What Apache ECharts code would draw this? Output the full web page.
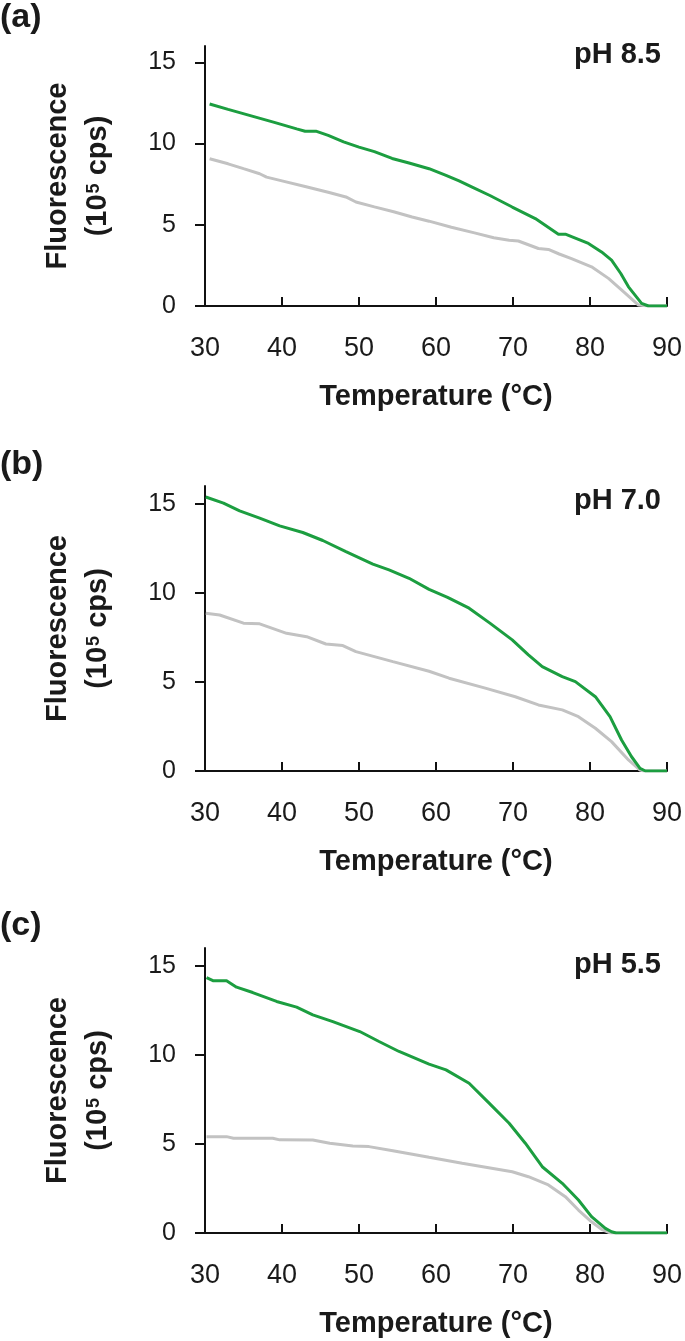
<!DOCTYPE html>
<html>
<head>
<meta charset="utf-8">
<title>Fluorescence vs temperature</title>
<script src="https://cdn.jsdelivr.net/npm/echarts@6/dist/echarts.min.js"></script>
<style>
  html, body { margin: 0; padding: 0; background: #fff; }
  #main { width: 685px; height: 1341px; }
</style>
</head>
<body>
<div id="main"></div>
<script>
// panel labels
var panelLetters = ['(a)', '(b)', '(c)'];
var phLabels = ['pH 8.5', 'pH 7.0', 'pH 5.5'];

// axis ticks
var xTicks = [30, 40, 50, 60, 70, 80, 90];
var yTicks = [0, 5, 10, 15];

// [temperature °C, fluorescence 10^5 cps]
var greenA = [[30.6,12.43],[33,12.1],[36,11.7],[39,11.3],[41.9,10.9],[43,10.75],[44.4,10.76],[46,10.5],[48,10.1],[50,9.78],[52,9.5],[54.3,9.08],[56.5,8.8],[59.1,8.45],[61.3,8.04],[63,7.7],[64.7,7.32],[67,6.8],[69.9,6.09],[72.9,5.38],[75.9,4.42],[76.8,4.42],[78.5,4.1],[79.8,3.85],[81.5,3.33],[82.8,2.82],[84,2.0],[85,1.18],[86.7,0.16],[87.6,0],[90,0]];
var grayA = [[30.6,9.06],[33,8.75],[35,8.45],[37.1,8.14],[38,7.93],[40,7.7],[43,7.35],[46,7.0],[48.3,6.71],[49.6,6.4],[52,6.1],[54.5,5.8],[56.9,5.48],[59.1,5.22],[62,4.85],[65,4.5],[67.5,4.2],[69.5,4.05],[70.7,4.0],[73.3,3.54],[74.6,3.48],[76,3.2],[77.6,2.92],[80.2,2.41],[82.4,1.7],[84.6,0.78],[86.3,0.06],[87.5,0],[90,0]];

var greenB = [[30.1,15.38],[32.4,15.04],[34.5,14.6],[37.1,14.2],[39.7,13.76],[42.7,13.39],[45.3,12.94],[48.3,12.32],[51.8,11.61],[53.9,11.29],[56.5,10.82],[59.1,10.2],[61.5,9.75],[64.3,9.14],[67,8.3],[69.9,7.36],[72,6.52],[73.8,5.86],[76.4,5.3],[78.1,5.02],[80.7,4.17],[82.6,3.05],[84.1,1.74],[85.4,0.8],[86.5,0.15],[87.2,0],[90,0]];
var grayB = [[30.1,8.86],[31.9,8.76],[35,8.3],[37.1,8.26],[40.6,7.73],[43.2,7.54],[45.7,7.13],[47.9,7.04],[49.6,6.7],[54.4,6.14],[59.1,5.6],[61.7,5.21],[66.4,4.65],[70.3,4.17],[73.3,3.71],[76.4,3.43],[78.5,3.05],[80.7,2.4],[82.8,1.65],[85,0.62],[86.5,0.05],[87,0],[90,0]];

var greenC = [[30.2,14.34],[31.1,14.16],[32.8,14.16],[34.1,13.8],[36.2,13.5],[39.3,13.0],[41.9,12.68],[44,12.25],[46.6,11.87],[50.1,11.31],[52.6,10.75],[55.2,10.19],[59.1,9.48],[61.3,9.16],[64.3,8.41],[66.9,7.29],[69.5,6.16],[71.6,5.04],[73.8,3.72],[76.4,2.79],[78.5,1.85],[80.2,0.92],[82,0.26],[82.8,0.07],[83.4,0],[90,0]];
var grayC = [[30.2,5.41],[32.8,5.41],[33.7,5.32],[38.8,5.32],[39.7,5.23],[44,5.22],[46.2,5.04],[49.2,4.89],[51.3,4.85],[54.4,4.62],[59.1,4.25],[63.4,3.92],[69.9,3.44],[72,3.16],[74.6,2.7],[76.8,2.04],[78.5,1.29],[80.2,0.63],[81.5,0.21],[82.6,0],[90,0]];

var greens = [greenA, greenB, greenC];
var grays = [grayA, grayB, grayC];

var FONT = '"Liberation Sans", Arial, sans-serif';
var INK = '#1a1a1a';

// grid geometry per panel (px)
var gridTops = [46, 486, 948];
var gridHeights = [260, 285, 285];
var letterTops = [1, 448, 909];
var phTops = [40, 486, 950];

var option = {
    backgroundColor: '#fff',
    animation: false,
    title: [],
    grid: [],
    xAxis: [],
    yAxis: [],
    series: []
};

for (var i = 0; i < 3; i++) {
    option.title.push({
        text: panelLetters[i], left: 0, top: letterTops[i], padding: 0,
        textStyle: { fontFamily: FONT, fontSize: 34, fontWeight: 'bold', color: INK }
    });
    option.title.push({
        text: phLabels[i], right: 24, top: phTops[i], padding: 0,
        textStyle: { fontFamily: FONT, fontSize: 29, fontWeight: 'bold', color: INK }
    });
    option.grid.push({ left: 205, right: 17, top: gridTops[i], height: gridHeights[i] });
    option.xAxis.push({
        type: 'value', gridIndex: i, min: 30, max: 90, interval: 10,
        name: 'Temperature (°C)', nameLocation: 'middle', nameGap: 76,
        nameTextStyle: { fontFamily: FONT, fontSize: 29, fontWeight: 'bold', color: INK },
        axisLine: { show: true, lineStyle: { color: '#111', width: 2 } },
        axisTick: { show: true, inside: true, length: 9, lineStyle: { color: '#111', width: 2 } },
        axisLabel: { margin: 29, fontFamily: FONT, fontSize: 27, color: INK,
            customValues: xTicks },
        splitLine: { show: false }
    });
    option.yAxis.push({
        type: 'value', gridIndex: i, min: 0, max: 16, interval: 5,
        name: '{t|Fluorescence}\n{t|(10}{s|5}{t| cps)}',
        nameLocation: 'middle', nameGap: 87, nameRotate: 90,
        nameTextStyle: {
            fontFamily: FONT, fontSize: 29, fontWeight: 'bold', color: INK, lineHeight: 40,
            rich: {
                t: { fontFamily: FONT, fontSize: 29, fontWeight: 'bold', color: INK, lineHeight: 40 },
                s: { fontFamily: FONT, fontSize: 18, fontWeight: 'bold', color: INK,
                     lineHeight: 18, verticalAlign: 'top', padding: [7, 0, 0, 1] }
            }
        },
        axisLine: { show: true, lineStyle: { color: '#111', width: 2 } },
        axisTick: { show: true, inside: false, length: 10, lineStyle: { color: '#111', width: 2 },
            customValues: yTicks },
        axisLabel: { margin: 29, fontFamily: FONT, fontSize: 25, color: INK,
            customValues: yTicks },
        splitLine: { show: false }
    });
    option.series.push({
        type: 'line', xAxisIndex: i, yAxisIndex: i, data: grays[i],
        showSymbol: false, lineStyle: { color: '#c2c2c2', width: 3 }, z: 2
    });
    option.series.push({
        type: 'line', xAxisIndex: i, yAxisIndex: i, data: greens[i],
        showSymbol: false, lineStyle: { color: '#1c9e40', width: 3 }, z: 3
    });
}

var myChart = echarts.init(document.getElementById('main'));
myChart.setOption(option);
</script>
</body>
</html>
